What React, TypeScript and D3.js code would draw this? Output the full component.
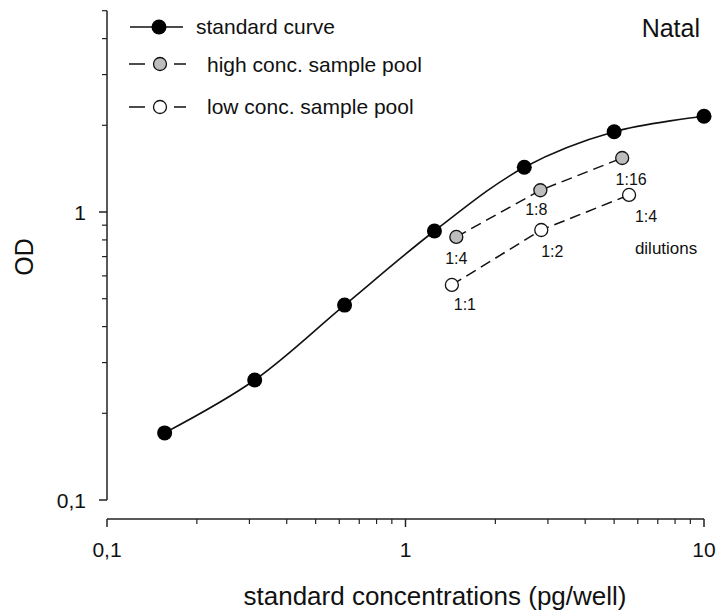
import * as d3 from 'd3';

// standard curve
const stdConc = [0.156, 0.3125, 0.625, 1.25, 2.5, 5, 10];
const stdOD = [0.171, 0.261, 0.475, 0.859, 1.43, 1.9, 2.15];

// high conc. sample pool
const highConc = [1.48, 2.83, 5.32];
const highOD = [0.819, 1.19, 1.54];
const highLabels = ['1:4', '1:8', '1:16'];

// low conc. sample pool
const lowConc = [1.43, 2.85, 5.61];
const lowOD = [0.558, 0.866, 1.146];
const lowLabels = ['1:1', '1:2', '1:4'];

const xMajor = [0.1, 1, 10];
const xMajorLabels = ['0,1', '1', '10'];
const yMajor = [0.1, 1];
const yMajorLabels = ['0,1', '1'];

const legendLabels = ['standard curve', 'high conc. sample pool', 'low conc. sample pool'];

const W = 719;
const H = 612;
const font = '"Liberation Sans", Arial, sans-serif';

// label nudges (px) relative to each point
const highOffsets = [[0, 27], [-4, 25], [9, 27]];
const lowOffsets = [[13, 25], [11, 27], [17, 27]];

export default function App() {
  const x = d3.scaleLog().domain([0.1, 10]).range([107, 704]);
  const y = d3.scaleLog().domain([0.1, 1]).range([500, 212]);
  const yTop = 5;
  const xAxisY = 519;
  const yAxisX = 107;

  const minorX: number[] = [];
  for (const d of [0.1, 1]) for (let k = 2; k <= 9; k++) minorX.push(d * k);
  const minorY: number[] = [];
  for (const d of [0.1, 1]) for (let k = 2; k <= 9; k++) if (d * k <= yTop) minorY.push(d * k);

  const std = stdConc.map((c, i) => [x(c), y(stdOD[i])] as [number, number]);
  const high = highConc.map((c, i) => [x(c), y(highOD[i])] as [number, number]);
  const low = lowConc.map((c, i) => [x(c), y(lowOD[i])] as [number, number]);

  const smooth = d3.line().curve(d3.curveCatmullRom.alpha(0.5));
  const straight = d3.line();

  return (
    <svg width={W} height={H} style={{ position: 'absolute', left: 0, top: 0, background: '#fff' }}
      fontFamily={font}>
      {/* y axis */}
      <line x1={yAxisX} x2={yAxisX} y1={y(0.1)} y2={y(yTop)} stroke="#222" strokeWidth={1.5} />
      {yMajor.map((v, i) => (
        <g key={'ym' + i}>
          <line x1={yAxisX - 8} x2={yAxisX} y1={y(v)} y2={y(v)} stroke="#222" strokeWidth={1.5} />
          <text x={86} y={y(v) + 7.5} fontSize={21} textAnchor="end" fill="#111">{yMajorLabels[i]}</text>
        </g>
      ))}
      {minorY.map((v, i) => (
        <line key={'yn' + i} x1={yAxisX - 5} x2={yAxisX} y1={y(v)} y2={y(v)} stroke="#222" strokeWidth={1.2} />
      ))}
      <text transform={`translate(33,257) rotate(-90)`} fontSize={25} textAnchor="middle" fill="#111">OD</text>

      {/* x axis */}
      <line x1={x(0.1)} x2={x(10)} y1={xAxisY} y2={xAxisY} stroke="#222" strokeWidth={1.5} />
      {xMajor.map((v, i) => (
        <g key={'xm' + i}>
          <line x1={x(v)} x2={x(v)} y1={xAxisY} y2={xAxisY + 8} stroke="#222" strokeWidth={1.5} />
          <text x={x(v)} y={557} fontSize={21} textAnchor="middle" fill="#111">{xMajorLabels[i]}</text>
        </g>
      ))}
      {minorX.map((v, i) => (
        <line key={'xn' + i} x1={x(v)} x2={x(v)} y1={xAxisY} y2={xAxisY + 5} stroke="#222" strokeWidth={1.2} />
      ))}
      <text x={435} y={605} fontSize={26} textAnchor="middle" fill="#111">standard concentrations (pg/well)</text>

      {/* series */}
      <path d={smooth(std) || ''} fill="none" stroke="#111" strokeWidth={1.6} />
      <path d={straight(high) || ''} fill="none" stroke="#111" strokeWidth={1.5} strokeDasharray="11,6" />
      <path d={straight(low) || ''} fill="none" stroke="#111" strokeWidth={1.5} strokeDasharray="11,6" />

      {std.map((p, i) => <circle key={'s' + i} cx={p[0]} cy={p[1]} r={7.5} fill="#000" />)}
      {high.map((p, i) => (
        <g key={'h' + i}>
          <circle cx={p[0]} cy={p[1]} r={6.5} fill="#bdbdbd" stroke="#111" strokeWidth={1.3} />
          <text x={p[0] + highOffsets[i][0]} y={p[1] + highOffsets[i][1]} fontSize={16} textAnchor="middle" fill="#111">{highLabels[i]}</text>
        </g>
      ))}
      {low.map((p, i) => (
        <g key={'l' + i}>
          <circle cx={p[0]} cy={p[1]} r={6.5} fill="#fff" stroke="#111" strokeWidth={1.3} />
          <text x={p[0] + lowOffsets[i][0]} y={p[1] + lowOffsets[i][1]} fontSize={16} textAnchor="middle" fill="#111">{lowLabels[i]}</text>
        </g>
      ))}
      <text x={low[2][0] + 37} y={low[2][1] + 59} fontSize={17} textAnchor="middle" fill="#111">dilutions</text>

      {/* legend */}
      <g>
        <line x1={130} x2={183} y1={27} y2={27} stroke="#111" strokeWidth={1.6} />
        <circle cx={159} cy={27} r={7.5} fill="#000" />
        <text x={196} y={34} fontSize={21} fill="#111">{legendLabels[0]}</text>

        <line x1={129} x2={145} y1={64} y2={64} stroke="#111" strokeWidth={1.5} />
        <line x1={174} x2={186} y1={64} y2={64} stroke="#111" strokeWidth={1.5} />
        <circle cx={160} cy={64} r={6.5} fill="#bdbdbd" stroke="#111" strokeWidth={1.3} />
        <text x={207} y={72} fontSize={21} fill="#111">{legendLabels[1]}</text>

        <line x1={129} x2={145} y1={107} y2={107} stroke="#111" strokeWidth={1.5} />
        <line x1={174} x2={186} y1={107} y2={107} stroke="#111" strokeWidth={1.5} />
        <circle cx={160} cy={107} r={6.5} fill="#fff" stroke="#111" strokeWidth={1.3} />
        <text x={207} y={114} fontSize={21} fill="#111">{legendLabels[2]}</text>
      </g>

      <text x={700} y={37} fontSize={25} textAnchor="end" fill="#111">Natal</text>
    </svg>
  );
}
